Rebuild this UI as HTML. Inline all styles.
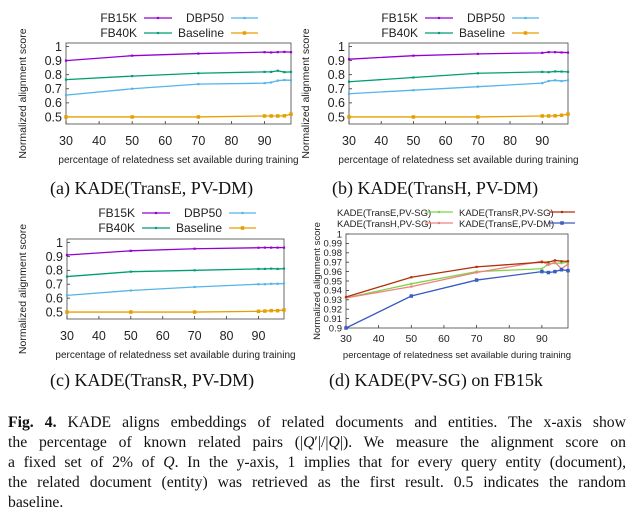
<!DOCTYPE html>
<html><head><meta charset="utf-8"><style>
body{margin:0;background:#fff;width:634px;height:512px;overflow:hidden;position:relative}
svg{position:absolute;left:0;top:0}
.cap{position:absolute;font-family:"Liberation Serif",serif;font-size:18px;color:#111;white-space:nowrap}
#caption{position:absolute;left:8px;top:413px;width:618px;font-family:"Liberation Serif",serif;font-size:15.7px;line-height:20px;color:#111}
#caption div{text-align:justify;text-align-last:justify;white-space:nowrap}
#caption div.last{text-align-last:left}
</style></head><body>
<svg id="chart" width="634" height="512" font-family="Liberation Sans, sans-serif"></svg>
<div class="cap" style="left:50px;top:178px">(a) KADE(TransE, PV-DM)</div>
<div class="cap" style="left:332px;top:178px">(b) KADE(TransH, PV-DM)</div>
<div class="cap" style="left:50px;top:370px">(c) KADE(TransR, PV-DM)</div>
<div class="cap" style="left:329px;top:370px">(d) KADE(PV-SG) on FB15k</div>
<div id="caption">
<div><b>Fig. 4.</b> KADE aligns embeddings of related documents and entities. The x-axis show</div>
<div>the percentage of known related pairs (|<i>Q</i>′|/|<i>Q</i>|). We measure the alignment score on</div>
<div>a fixed set of 2% of <i>Q</i>. In the y-axis, 1 implies that for every query entity (document),</div>
<div>the related document (entity) was retrieved as the first result. 0.5 indicates the random</div>
<div class="last">baseline.</div>
</div>
<script>
const xs=[30,50,70,90,92,94,96,98];
const xTicks=[30,40,50,60,70,80,90];
const yTicksMain=[0.5,0.6,0.7,0.8,0.9,1];
const yTicksD=[0.9,0.91,0.92,0.93,0.94,0.95,0.96,0.97,0.98,0.99,1];
const namesMain=["FB15K","FB40K","DBP50","Baseline"];
const a_fb15k=[0.90,0.935,0.95,0.96,0.958,0.96,0.962,0.96];
const a_fb40k=[0.765,0.79,0.81,0.82,0.82,0.828,0.818,0.82];
const a_dbp50=[0.655,0.70,0.733,0.74,0.745,0.758,0.762,0.76];
const a_base=[0.50,0.50,0.50,0.507,0.507,0.507,0.508,0.52];
const b_fb15k=[0.91,0.935,0.948,0.955,0.96,0.96,0.958,0.957];
const b_fb40k=[0.75,0.78,0.81,0.82,0.818,0.823,0.822,0.82];
const b_dbp50=[0.665,0.69,0.715,0.74,0.755,0.76,0.755,0.76];
const b_base=[0.5,0.5,0.5,0.507,0.507,0.508,0.512,0.52];
const c_fb15k=[0.91,0.94,0.955,0.962,0.963,0.963,0.963,0.963];
const c_fb40k=[0.755,0.79,0.80,0.81,0.81,0.812,0.81,0.812];
const c_dbp50=[0.62,0.655,0.68,0.70,0.70,0.703,0.703,0.705];
const c_base=[0.5,0.5,0.5,0.505,0.507,0.51,0.51,0.515];
const namesD=["KADE(TransE,PV-SG)","KADE(TransH,PV-SG)","KADE(TransR,PV-SG)","KADE(TransE,PV-DM)"];
const d_transE_sg=[0.932,0.947,0.960,0.963,0.968,0.969,0.969,0.970];
const d_transH_sg=[0.932,0.944,0.959,0.971,0.967,0.970,0.963,0.968];
const d_transR_sg=[0.933,0.954,0.965,0.970,0.970,0.972,0.971,0.971];
const d_transE_dm=[0.898,0.934,0.951,0.960,0.959,0.960,0.962,0.961];

const svg=document.getElementById('chart');
const NS="http://www.w3.org/2000/svg";
function mk(tag,attrs,parent){const e=document.createElementNS(NS,tag);for(const k in attrs)e.setAttribute(k,attrs[k]);(parent||svg).appendChild(e);return e;}
const colMain=["#9400d3","#009e73","#56b4e9","#e69f00"];
const colD=["#7fd44a","#f08080","#b0300c","#3a5bbf"];

function panel(id,box,yMin,yMax,yTicks,series,colors,names,dPanel,leg){
  const g=mk('g',{});
  
  
  const X=v=>box.x0+(v-30)/(98-30)*(box.x1-box.x0);
  const Y=v=>box.y1-(v-yMin)/(yMax-yMin)*(box.y1-box.y0);
  const fs=dPanel?9.5:12.5;
  yTicks.forEach(t=>{
    const tk=mk('line',{x1:box.x0,x2:box.x0+3,y1:Y(t),y2:Y(t),stroke:'#333','stroke-width':0.8},g);
    
    
    const tx=mk('text',{x:box.x0-4,y:Y(t)+fs*0.35,'text-anchor':'end','font-size':fs,fill:'#222'},g);
    tx.textContent=dPanel?t.toFixed(2).replace(/^1\.00$/,'1').replace(/^0\.90$/,'0.9'):String(t);
    
    
  });
  xTicks.forEach(t=>{
    mk('line',{x1:X(t),x2:X(t),y1:box.y1,y2:box.y1-3,stroke:'#333','stroke-width':0.8},g);
    const tx=mk('text',{x:X(t),y:box.tickY,'text-anchor':'middle','font-size':dPanel?10.5:12.5,fill:'#222'},g);
    tx.textContent=t;
    
    
  });
  const fr=mk('rect',{x:box.x0,y:box.y0,width:box.x1-box.x0,height:box.y1-box.y0,fill:'none',stroke:'#444','stroke-width':0.8},g);
  
  
  const xt=mk('text',{x:(box.x0+box.x1)/2,y:box.titleY,'text-anchor':'middle','font-size':dPanel?9.5:10,fill:'#222'},g);
  xt.textContent='percentage of relatedness set available during training';
  
  
  const cy=(box.y0+box.y1)/2+(dPanel?0:10);
  const yt=mk('text',{x:box.yTitleX,y:cy,'text-anchor':'middle','font-size':dPanel?9.5:10.5,fill:'#222',transform:`rotate(-90 ${box.yTitleX} ${cy})`},g);
  yt.textContent='Normalized alignment score';
  
  
  series.forEach((s,i)=>{
    const p=mk('polyline',{points:s.map((v,j)=>X(xs[j])+','+Y(Math.max(v,yMin))).join(' '),fill:'none',stroke:colors[i],'stroke-width':1.3},g);
    
    
    const sz=i===3?3.5:2.2;
    s.forEach((v,j)=>{
      const m=mk('rect',{x:X(xs[j])-sz/2,y:Y(Math.max(v,yMin))-sz/2,width:sz,height:sz,fill:colors[i]},g);
      
      
    });
  });
  names.forEach((n,i)=>{
    const col=leg.cols[i], row=leg.rows[i];
    const t=mk('text',{x:col.tx,y:row+4,'text-anchor':leg.anchor,'font-size':dPanel?9.5:12,fill:'#222'},g);
    t.textContent=n;
    
    
    const l=mk('line',{x1:col.lx0,x2:col.lx1,y1:row,y2:row,stroke:colors[i],'stroke-width':1.3},g);
    
    
    const sz=i===3?3.5:2.2;
    mk('rect',{x:(col.lx0+col.lx1)/2-sz/2,y:row-sz/2,width:sz,height:sz,fill:colors[i]},g);
  });
}
function mainLeg(dx,y1,y2){
  const c1={tx:137+dx,lx0:144+dx,lx1:172+dx}, c2={tx:224+dx,lx0:231+dx,lx1:258+dx};
  return {anchor:'end',cols:[c1,c1,c2,c2],rows:[y1,y2,y1,y2]};
}
const yTop=1.025, yBot=0.45;
panel('a',{x0:66,x1:291,y0:43,y1:124,tickY:145,titleY:163,yTitleX:26},yBot,yTop,yTicksMain,[a_fb15k,a_fb40k,a_dbp50,a_base],colMain,namesMain,false,mainLeg(0,18,33));
panel('b',{x0:349,x1:568,y0:43,y1:124,tickY:145,titleY:163,yTitleX:309},yBot,yTop,yTicksMain,[b_fb15k,b_fb40k,b_dbp50,b_base],colMain,namesMain,false,mainLeg(281,18,33));
panel('c',{x0:67,x1:284,y0:239,y1:319,tickY:340,titleY:358,yTitleX:26},yBot,yTop,yTicksMain,[c_fb15k,c_fb40k,c_dbp50,c_base],colMain,namesMain,false,mainLeg(-2,213,228));
const lc1={tx:337,lx0:425,lx1:453}, lc2={tx:459,lx0:549,lx1:575};
panel('d',{x0:346,x1:568,y0:234,y1:328,tickY:342,titleY:358,yTitleX:320},0.9,1.0,yTicksD,[d_transE_sg,d_transH_sg,d_transR_sg,d_transE_dm],colD,namesD,true,{anchor:'start',cols:[lc1,lc1,lc2,lc2],rows:[212,223,212,223]});
</script>
</body></html>
